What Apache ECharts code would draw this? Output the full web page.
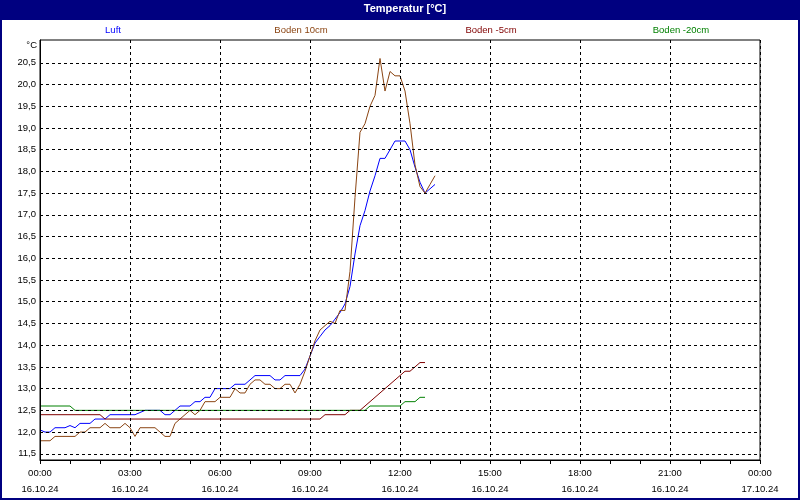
<!DOCTYPE html>
<html><head><meta charset="utf-8">
<script src="https://cdn.jsdelivr.net/npm/echarts@6/dist/echarts.min.js"></script>
<style>html,body{margin:0;padding:0;background:#fff}#c{width:800px;height:500px}</style>
</head><body><div id="c"></div>
<script>
// ---- data ----
const chartTitle = 'Temperatur [°C]';
const seriesNames = ['Luft', 'Boden 10cm', 'Boden -5cm', 'Boden -20cm'];
const seriesColors = ['#0000ff', '#8b4513', '#800000', '#008000'];
const dateLabel = ['16.10.24', '17.10.24'];
const yTickValues = [11.5, 12.0, 12.5, 13.0, 13.5, 14.0, 14.5, 15.0, 15.5, 16.0, 16.5, 17.0, 17.5, 18.0, 18.5, 19.0, 19.5, 20.0, 20.5];

// Luft and Boden 10cm: samples every 10 minutes from 00:00
const sampleStart = '00:00';
const sampleStepMin = 10;
const luftTemp = [
  12.05, 12.0, 12.0, 12.1, 12.1, 12.1, 12.15, 12.1, 12.2, 12.2,
  12.2, 12.3, 12.3, 12.3, 12.4, 12.4, 12.4, 12.4, 12.4, 12.4,
  12.45, 12.5, 12.5, 12.5, 12.5, 12.4, 12.4, 12.5, 12.6, 12.6,
  12.6, 12.7, 12.7, 12.8, 12.8, 13.0, 13.0, 13.0, 13.0, 13.1,
  13.1, 13.1, 13.2, 13.3, 13.3, 13.3, 13.3, 13.2, 13.2, 13.3,
  13.3, 13.3, 13.3, 13.45, 13.75, 14.05, 14.2, 14.35, 14.45, 14.6,
  14.75, 14.95, 15.35, 16.1, 16.75, 17.1, 17.55, 17.9, 18.3, 18.3,
  18.5, 18.7, 18.7, 18.7, 18.5, 18.1, 17.75, 17.5, 17.6, 17.7
];
const boden10Temp = [
  11.8, 11.8, 11.8, 11.9, 11.9, 11.9, 11.9, 11.9, 12.0, 12.0,
  12.1, 12.1, 12.1, 12.2, 12.1, 12.1, 12.1, 12.2, 12.1, 11.9,
  12.1, 12.1, 12.1, 12.1, 12.0, 11.9, 11.9, 12.2, 12.3, 12.4,
  12.5, 12.4, 12.5, 12.7, 12.7, 12.7, 12.8, 12.8, 12.8, 13.0,
  12.9, 12.9, 13.1, 13.2, 13.2, 13.1, 13.1, 13.0, 13.0, 13.1,
  13.1, 12.9, 13.1, 13.4, 13.75, 14.1, 14.35, 14.45, 14.55, 14.5,
  14.8, 14.8, 15.7, 17.4, 18.9, 19.1, 19.5, 19.75, 20.6, 19.85,
  20.3, 20.2, 20.2, 19.85, 19.1, 18.15, 17.65, 17.5, 17.7, 17.9
];
// Boden -5cm and Boden -20cm: values at the times where the line changes
const bodenM5Time = ['00:00', '02:00', '02:10', '09:20', '09:30', '10:10', '10:20', '10:40', '12:00', '12:10', '12:20', '12:40', '12:50'];
const bodenM5Temp = [12.4, 12.4, 12.3, 12.3, 12.4, 12.4, 12.5, 12.5, 13.3, 13.4, 13.4, 13.6, 13.6];
const bodenM20Time = ['00:00', '01:00', '01:10', '10:50', '11:00', '12:00', '12:10', '12:30', '12:40', '12:50'];
const bodenM20Temp = [12.6, 12.6, 12.5, 12.5, 12.6, 12.6, 12.7, 12.7, 12.8, 12.8];

// ---- helpers ----
const FONT = 'Liberation Sans';
const FS = 9.5;
function hm(s) { const p = s.split(':').map(Number); return p[0] + p[1] / 60; }
function sampled(vals) { const t0 = hm(sampleStart); return vals.map((v, i) => [t0 + i * sampleStepMin / 60, v]); }
function paired(times, vals) { return times.map((t, i) => [hm(t), vals[i]]); }
const measureCtx = document.createElement('canvas').getContext('2d');
function textW(t) { measureCtx.font = FS + 'px "' + FONT + '"'; return measureCtx.measureText(t).width; }

const seriesData = [sampled(luftTemp), sampled(boden10Temp), paired(bodenM5Time, bodenM5Temp), paired(bodenM20Time, bodenM20Temp)];
const legendCenters = [113, 301, 491, 681];

const chart = echarts.init(document.getElementById('c'), null, { renderer: 'canvas' });
chart.setOption({
  animation: false,
  backgroundColor: '#fff',
  graphic: [
    { type: 'rect', z: -10, shape: { x: 0, y: 0, width: 800, height: 20 }, style: { fill: '#000080' } },
    { type: 'rect', z: -10, shape: { x: 1, y: 1, width: 798, height: 498 }, style: { fill: null, stroke: '#000080', lineWidth: 2 } }
  ],
  title: {
    text: chartTitle, left: 405, top: 3, padding: 0, textAlign: 'center',
    textStyle: { color: '#fff', fontWeight: 'bold', fontSize: 11, fontFamily: FONT }
  },
  legend: seriesNames.map((n, i) => ({
    data: [{ name: n, textStyle: { color: seriesColors[i] } }],
    left: legendCenters[i] - textW(n) / 2 - 5, top: 23, padding: 0,
    icon: 'none', itemWidth: 0, itemHeight: 14, selectedMode: false,
    textStyle: { fontSize: FS, fontFamily: FONT }
  })),
  grid: { left: 40, right: 40, top: 40, bottom: 40, show: true, borderColor: '#000', borderWidth: 1, backgroundColor: 'transparent' },
  xAxis: {
    type: 'value', min: 0, max: 24, interval: 3, z: 5,
    axisLine: { lineStyle: { color: '#000', width: 1 } },
    axisTick: { length: 4, lineStyle: { color: '#000' } },
    minorTick: { show: true, splitNumber: 3, length: 4, lineStyle: { color: '#000' } },
    axisLabel: {
      margin: 5, lineHeight: 16, color: '#000', fontSize: FS, fontFamily: FONT,
      showMinLabel: true, showMaxLabel: true,
      formatter: v => {
        const hh = Math.round(v) % 24;
        const d = Math.floor(Math.round(v) / 24);
        return String(hh).padStart(2, '0') + ':00\n' + dateLabel[d];
      }
    },
    splitLine: { show: true, lineStyle: { color: '#000', type: [3, 3], width: 1 } }
  },
  yAxis: {
    type: 'value', min: 11.357, max: 21.025, z: 5,
    name: '°C', nameLocation: 'end', nameGap: -5,
    nameTextStyle: { align: 'right', verticalAlign: 'middle', padding: [0, 3, 0, 0], color: '#000', fontSize: FS, fontFamily: FONT },
    axisLine: { show: true, lineStyle: { color: '#000', width: 1 } },
    axisTick: { show: false, customValues: yTickValues },
    axisLabel: {
      customValues: yTickValues, margin: 4, color: '#000', fontSize: FS, fontFamily: FONT,
      formatter: v => v.toFixed(1).replace('.', ',')
    },
    splitLine: { show: true, lineStyle: { color: '#000', type: [3, 3], width: 1 } }
  },
  series: seriesNames.map((n, i) => ({
    name: n, type: 'line', z: 1, data: seriesData[i], showSymbol: false, symbol: 'none',
    color: seriesColors[i], lineStyle: { width: 1, color: seriesColors[i] }
  }))
});
</script></body></html>
